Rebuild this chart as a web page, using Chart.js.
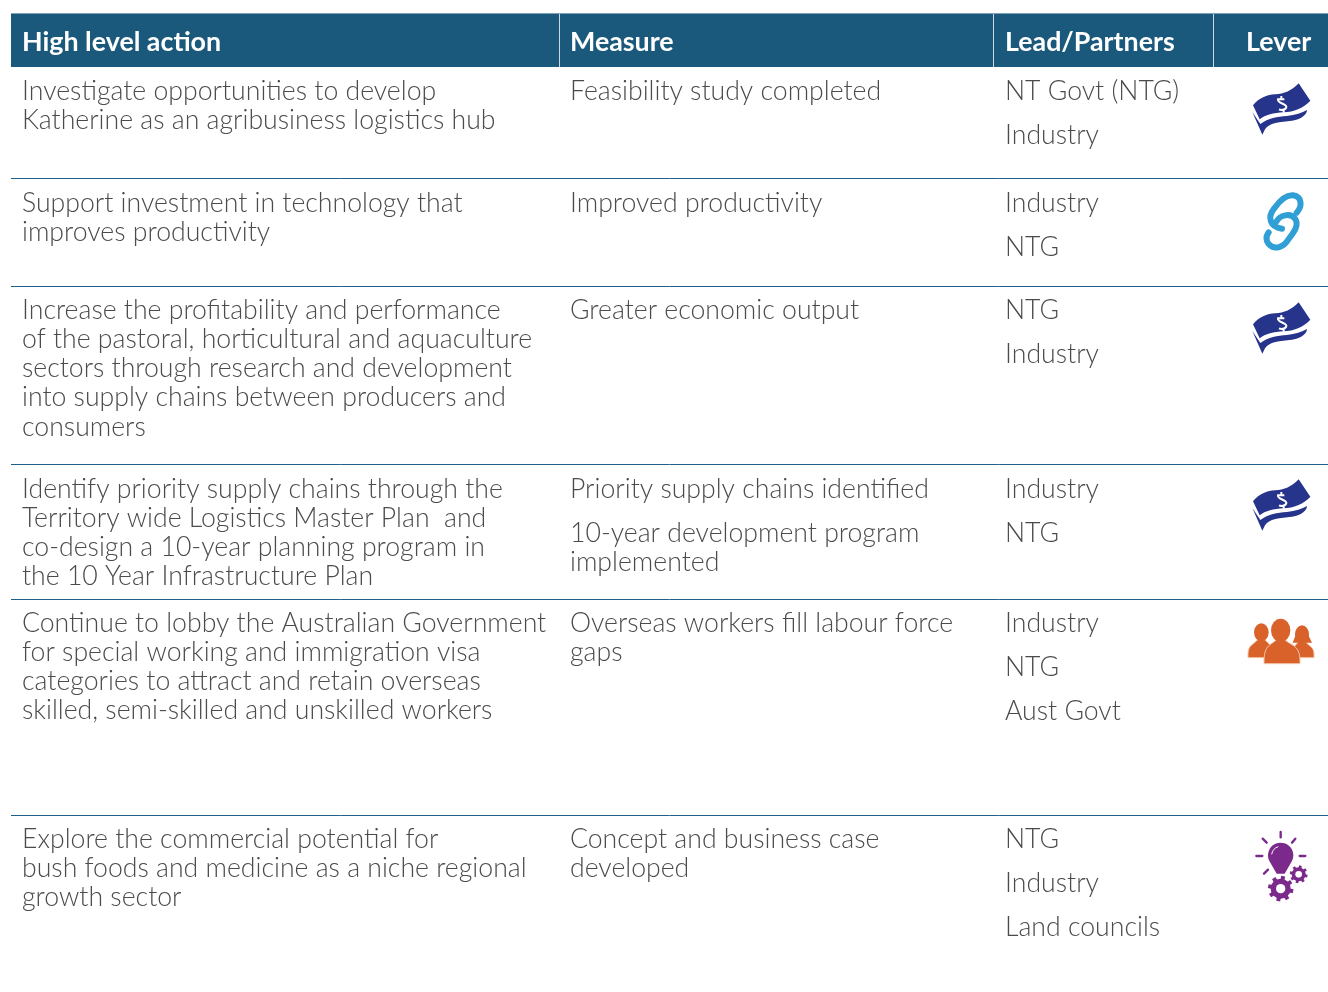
<!DOCTYPE html>
<html>
<head>
<meta charset="utf-8">
<title>High level actions</title>
<script src="https://cdn.jsdelivr.net/npm/chart.js@4"></script>
<style>
  html, body { margin: 0; padding: 0; background: #fff; }
  canvas { display: block; }
</style>
</head>
<body>
<canvas id="chart" width="1328" height="992"></canvas>
<script>
const columnTitles = ["High level action", "Measure", "Lead/Partners", "Lever"];

const actions = [
  ["Investigate opportunities to develop", "Katherine as an agribusiness logistics hub"],
  ["Support investment in technology that", "improves productivity"],
  ["Increase the profitability and performance", "of the pastoral, horticultural and aquaculture", "sectors through research and development", "into supply chains between producers and", "consumers"],
  ["Identify priority supply chains through the", "Territory wide Logistics Master Plan  and", "co-design a 10-year planning program in", "the 10 Year Infrastructure Plan"],
  ["Continue to lobby the Australian Government", "for special working and immigration visa", "categories to attract and retain overseas", "skilled, semi-skilled and unskilled workers"],
  ["Explore the commercial potential for", "bush foods and medicine as a niche regional", "growth sector"]
];

const measures = [
  [["Feasibility study completed"]],
  [["Improved productivity"]],
  [["Greater economic output"]],
  [["Priority supply chains identified"], ["10-year development program", "implemented"]],
  [["Overseas workers fill labour force", "gaps"]],
  [["Concept and business case", "developed"]]
];

const partners = [
  ["NT Govt (NTG)", "Industry"],
  ["Industry", "NTG"],
  ["NTG", "Industry"],
  ["Industry", "NTG"],
  ["Industry", "NTG", "Aust Govt"],
  ["NTG", "Industry", "Land councils"]
];

const levers = ["money", "link", "money", "money", "people", "bulb"];

// layout, in page pixels
const columnX = [22, 570, 1005, 1246];
const columnRules = [559.5, 993.5, 1213.5];
const rowRules = [178.5, 286, 464, 599, 815];
const rowBaselines = [99.5, 211.5, 318.5, 497.5, 631.5, 847.5];
const leverX = [1277, 1278, 1277, 1277, 1278, 1288];
const leverY = [110, 220, 329, 506, 645, 862];
const lineGap = 29.3;
const paragraphGap = 44.4;
const textColor = "#4b4b4b";
const bodyFont = "300 26.65px Lato";
const headFont = "700 26.8px Lato";

// the icons are drawn in 3x units, same as the zoomed crops
function makeIcon(draw) {
  const c = document.createElement("canvas");
  c.width = 100;
  c.height = 80;
  const g = c.getContext("2d");
  g.filter = "blur(0.5px)";
  g.scale(1 / 3, 1 / 3);
  draw(g);
  return c;
}

const icons = {
  money: makeIcon(g => {
    g.fillStyle = "#27348b";
    g.beginPath();
    g.moveTo(78, 106);
    g.bezierCurveTo(95, 85, 120, 74, 145, 73);
    g.bezierCurveTo(170, 72, 195, 62, 215, 40);
    g.lineTo(250, 92);
    g.bezierCurveTo(228, 116, 200, 125, 170, 127);
    g.bezierCurveTo(140, 129, 115, 134, 98, 148);
    g.closePath();
    g.fill();
    g.beginPath();
    g.moveTo(76, 126);
    g.lineTo(100, 162);
    g.bezierCurveTo(125, 143, 150, 141, 180, 138);
    g.bezierCurveTo(205, 135, 225, 129, 240, 120);
    g.bezierCurveTo(240, 132, 225, 148, 195, 152);
    g.bezierCurveTo(160, 156, 125, 158, 114, 178);
    g.lineTo(106, 194);
    g.closePath();
    g.fill();
    g.strokeStyle = "#fff";
    g.lineWidth = 6;
    g.beginPath();
    g.moveTo(172, 88);
    g.lineTo(153, 88);
    g.bezierCurveTo(150, 100, 176, 100, 178, 110);
    g.bezierCurveTo(178, 118, 165, 122, 156, 118);
    g.moveTo(163, 78);
    g.lineTo(163, 86);
    g.moveTo(170, 120);
    g.lineTo(170, 128);
    g.stroke();
  }),
  link: makeIcon(g => {
    g.strokeStyle = "#2f9fd6";
    g.lineWidth = 18;
    g.lineCap = "round";
    g.beginPath();
    g.moveTo(162, 146);
    g.bezierCurveTo(125, 140, 118, 112, 138, 86);
    g.bezierCurveTo(155, 62, 175, 44, 195, 46);
    g.bezierCurveTo(222, 50, 224, 78, 206, 98);
    g.stroke();
    g.beginPath();
    g.moveTo(145, 125);
    g.bezierCurveTo(155, 105, 188, 97, 202, 117);
    g.bezierCurveTo(214, 137, 197, 157, 182, 177);
    g.bezierCurveTo(167, 202, 140, 212, 122, 192);
    g.bezierCurveTo(112, 180, 115, 167, 122, 157);
    g.stroke();
  }),
  people: makeIcon(g => {
    const person = (hx, hy, rx, ry, x0, x1, top, bottom) => {
      g.beginPath();
      g.moveTo(x0, bottom);
      g.lineTo(x0, bottom - 14);
      g.bezierCurveTo(x0 + 2, top + 14, hx - rx, top + 14, hx - rx * 0.5, top);
      g.lineTo(hx + rx * 0.5, top);
      g.bezierCurveTo(hx + rx, top + 14, x1 - 2, top + 14, x1, bottom - 14);
      g.lineTo(x1, bottom);
      g.closePath();
      g.fill();
      g.stroke();
      g.beginPath();
      g.ellipse(hx, hy, rx, ry, 0, 0, Math.PI * 2);
      g.fill();
    };
    g.fillStyle = "#d9622b";
    g.strokeStyle = "#f3c5a8";
    g.lineWidth = 3;
    person(100, 82, 22, 27, 60, 135, 104, 158);
    person(222, 88, 21, 27, 192, 258, 110, 158);
    g.beginPath();
    g.moveTo(203, 90);
    g.lineTo(194, 113);
    g.lineTo(252, 113);
    g.lineTo(241, 90);
    g.closePath();
    g.fill();
    person(158, 76, 29, 35, 108, 216, 106, 176);
  }),
  bulb: makeIcon(g => {
    g.fillStyle = "#7b2a8c";
    g.strokeStyle = "#7b2a8c";
    g.lineCap = "round";
    g.lineWidth = 7;
    [[128, 30, 128, 46], [74, 50, 86, 62], [172, 50, 162, 62], [55, 102, 73, 102], [185, 102, 202, 102], [90, 143, 78, 155]].forEach(r => {
      g.beginPath();
      g.moveTo(r[0], r[1]);
      g.lineTo(r[2], r[3]);
      g.stroke();
    });
    g.beginPath();
    g.arc(128, 100, 38, Math.PI * 0.85, Math.PI * 0.15);
    g.lineTo(140, 155);
    g.lineTo(116, 155);
    g.closePath();
    g.fill();
    g.strokeStyle = "#fff";
    g.lineWidth = 3;
    g.beginPath();
    g.arc(128, 100, 27, Math.PI * 1.05, Math.PI * 1.4);
    g.stroke();
    const gear = (cx, cy, r, hole) => {
      g.fillStyle = "#7b2a8c";
      g.strokeStyle = "#7b2a8c";
      g.lineWidth = r * 0.4;
      g.lineCap = "butt";
      for (let i = 0; i < 8; i++) {
        const a = i * Math.PI / 4 + 0.2;
        g.beginPath();
        g.moveTo(cx, cy);
        g.lineTo(cx + Math.cos(a) * r * 1.27, cy + Math.sin(a) * r * 1.27);
        g.stroke();
      }
      g.beginPath();
      g.arc(cx, cy, r, 0, Math.PI * 2);
      g.fill();
      g.fillStyle = "#fff";
      g.beginPath();
      g.arc(cx, cy, hole, 0, Math.PI * 2);
      g.fill();
    };
    gear(128, 200, 30, 14);
    gear(182, 157, 21, 10);
  })
};

const tablePlugin = {
  id: "tableText",
  beforeDatasetsDraw(chart) {
    const { ctx, scales: { x, y } } = chart;
    // header band
    const left = x.getPixelForValue(11), right = x.getPixelForValue(1328);
    const top = y.getPixelForValue(14), bottom = y.getPixelForValue(67);
    ctx.save();
    ctx.fillStyle = "#1a597b";
    ctx.fillRect(left, top, right - left, bottom - top);
    ctx.fillStyle = "#7fa3b8";
    ctx.fillRect(left, top - 1, right - left, 1);
    ctx.strokeStyle = "#c9d8e1";
    ctx.lineWidth = 1;
    columnRules.forEach(v => {
      const px = x.getPixelForValue(v);
      ctx.beginPath();
      ctx.moveTo(px, top);
      ctx.lineTo(px, bottom);
      ctx.stroke();
    });
    ctx.textBaseline = "alphabetic";
    ctx.textAlign = "left";
    ctx.fillStyle = "#ffffff";
    ctx.font = headFont;
    columnTitles.forEach((t, i) => {
      ctx.fillText(t, x.getPixelForValue(columnX[i]), y.getPixelForValue(51));
    });
    // body cells
    ctx.fillStyle = textColor;
    ctx.font = bodyFont;
    const put = (t, col, base) => ctx.fillText(t, x.getPixelForValue(columnX[col]), y.getPixelForValue(base));
    actions.forEach((lines, r) => {
      lines.forEach((t, i) => put(t, 0, rowBaselines[r] + i * lineGap));
    });
    measures.forEach((paragraphs, r) => {
      let base = rowBaselines[r];
      paragraphs.forEach(lines => {
        lines.forEach((t, i) => put(t, 1, base + i * lineGap));
        base += paragraphGap;
      });
    });
    partners.forEach((lines, r) => {
      lines.forEach((t, i) => put(t, 2, rowBaselines[r] + i * paragraphGap));
    });
    ctx.restore();
  }
};

new Chart(document.getElementById("chart"), {
  type: "scatter",
  data: {
    datasets: [{
      data: levers.map((k, i) => ({ x: leverX[i], y: leverY[i] })),
      pointStyle: c => icons[levers[c.dataIndex]],
      pointRadius: 10
    }]
  },
  options: {
    responsive: false,
    animation: false,
    devicePixelRatio: 1,
    layout: { autoPadding: false, padding: { left: 11, top: 13 } },
    plugins: { legend: { display: false }, tooltip: { enabled: false } },
    scales: {
      x: {
        type: "linear", min: 11, max: 1328,
        display: false
      },
      y: {
        type: "linear", min: 13, max: 992, reverse: true,
        afterBuildTicks: s => { s.ticks = rowRules.map(v => ({ value: v })); },
        border: { display: false },
        grid: { color: "#1f6088", lineWidth: 1, drawTicks: false },
        ticks: { display: false }
      }
    }
  },
  plugins: [tablePlugin]
});
</script>
</body>
</html>
